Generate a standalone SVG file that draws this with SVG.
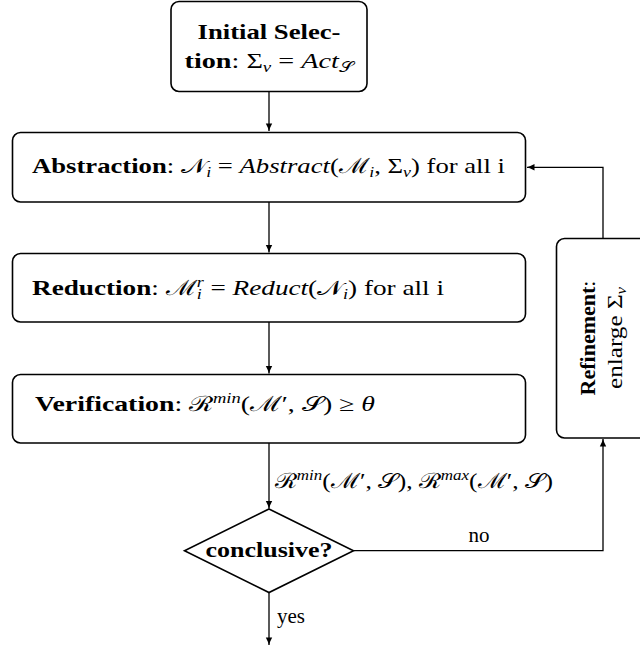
<svg xmlns="http://www.w3.org/2000/svg" width="640" height="647" viewBox="0 0 640 647">
  <style>
    .box { fill: #fff; stroke: #000; stroke-width: 1.6; }
    .edge { fill: none; stroke: #000; stroke-width: 1.3; }
    text { font-family: "Liberation Serif", "DejaVu Serif", serif; font-size: 21px; fill: #000; }
    .b { font-weight: bold; }
    .m { font-style: italic; }
    .s { font-size: 14px; }
  </style>
  <defs>
    <marker id="tip" viewBox="-8 -4 9 8" refX="0" refY="0" markerUnits="userSpaceOnUse" markerWidth="9" markerHeight="8" orient="auto">
      <path d="M -7.5 -3.2 Q -3 -0.8 0 0 Q -3 0.8 -7.5 3.2 Z" fill="#000"/>
    </marker>
  </defs>

  <!-- connectors -->
  <g id="edges">
    <path class="edge" d="M 269 91.5 V 131" marker-end="url(#tip)"/>
    <path class="edge" d="M 269 202 V 252.5" marker-end="url(#tip)"/>
    <path class="edge" d="M 269 322 V 373.5" marker-end="url(#tip)"/>
    <path class="edge" d="M 269 443 V 508.5" marker-end="url(#tip)"/>
    <path class="edge" d="M 269 592.5 V 645" marker-end="url(#tip)"/>
    <path class="edge" d="M 353.5 550.7 H 603 V 439" marker-end="url(#tip)"/>
    <path class="edge" d="M 603 238 V 167.3 H 527" marker-end="url(#tip)"/>
  </g>

  <!-- initial selection -->
  <g id="initial">
    <rect class="box" x="171" y="1.5" width="196" height="90" rx="8"/>
    <text x="269" y="39" text-anchor="middle" class="b" textLength="143" lengthAdjust="spacingAndGlyphs">Initial Selec-</text>
    <text x="269" y="68" text-anchor="middle" textLength="169" lengthAdjust="spacingAndGlyphs"><tspan class="b">tion</tspan>: Σ<tspan class="s m" dy="4">v</tspan><tspan dy="-4"> = </tspan><tspan class="m">Act</tspan><tspan class="s" dy="4">𝒮</tspan></text>
  </g>

  <!-- abstraction -->
  <g id="abstraction">
    <rect class="box" x="12.5" y="132.5" width="513" height="69.5" rx="8"/>
    <text x="32" y="173" textLength="473" lengthAdjust="spacingAndGlyphs"><tspan class="b">Abstraction</tspan>: 𝒩<tspan class="s m" dy="4">i</tspan><tspan dy="-4"> = </tspan><tspan class="m">Abstract</tspan>(ℳ<tspan class="s m" dy="4">i</tspan><tspan dy="-4">, Σ</tspan><tspan class="s m" dy="4">v</tspan><tspan dy="-4">) for all i</tspan></text>
  </g>

  <!-- reduction -->
  <g id="reduction">
    <rect class="box" x="12.5" y="253.5" width="513" height="68.5" rx="8"/>
    <text x="32" y="295" textLength="412" lengthAdjust="spacingAndGlyphs"><tspan class="b">Reduction</tspan>: ℳ<tspan class="s m" dy="4">i</tspan><tspan class="s m" dx="-4" dy="-12">r</tspan><tspan dy="8"> = </tspan><tspan class="m">Reduct</tspan>(𝒩<tspan class="s m" dy="4">i</tspan><tspan dy="-4">) for all i</tspan></text>
  </g>

  <!-- verification -->
  <g id="verification">
    <rect class="box" x="12.5" y="374.5" width="513" height="68.5" rx="8"/>
    <text x="35" y="411" textLength="340" lengthAdjust="spacingAndGlyphs"><tspan class="b">Verification</tspan>: ℛ<tspan class="s m" dy="-8">min</tspan><tspan dy="8">(ℳ′, 𝒮) ≥ </tspan><tspan class="m">θ</tspan></text>
  </g>

  <!-- refinement -->
  <g id="refinement">
    <rect class="box" x="556.5" y="238.5" width="94" height="199.5" rx="8"/>
    <text transform="translate(595 338) rotate(-90)" text-anchor="middle" class="b" textLength="115" lengthAdjust="spacingAndGlyphs">Refinement<tspan font-weight="normal">:</tspan></text>
    <text transform="translate(622 338) rotate(-90)" text-anchor="middle" textLength="102" lengthAdjust="spacingAndGlyphs">enlarge Σ<tspan class="s m" dy="4">v</tspan></text>
  </g>

  <!-- decision -->
  <g id="decision">
    <polygon class="box" points="269,509 353.5,550.7 269,592.5 184.5,550.7"/>
    <text x="269" y="557" text-anchor="middle" class="b" textLength="127" lengthAdjust="spacingAndGlyphs">conclusive?</text>
  </g>

  <!-- edge labels -->
  <g id="labels">
    <text x="275" y="488" textLength="278" lengthAdjust="spacingAndGlyphs">ℛ<tspan class="s m" dy="-8">min</tspan><tspan dy="8">(ℳ′, 𝒮), ℛ</tspan><tspan class="s m" dy="-8">max</tspan><tspan dy="8">(ℳ′, 𝒮)</tspan></text>
    <text x="479" y="542" text-anchor="middle">no</text>
    <text x="277" y="623">yes</text>
  </g>
</svg>
